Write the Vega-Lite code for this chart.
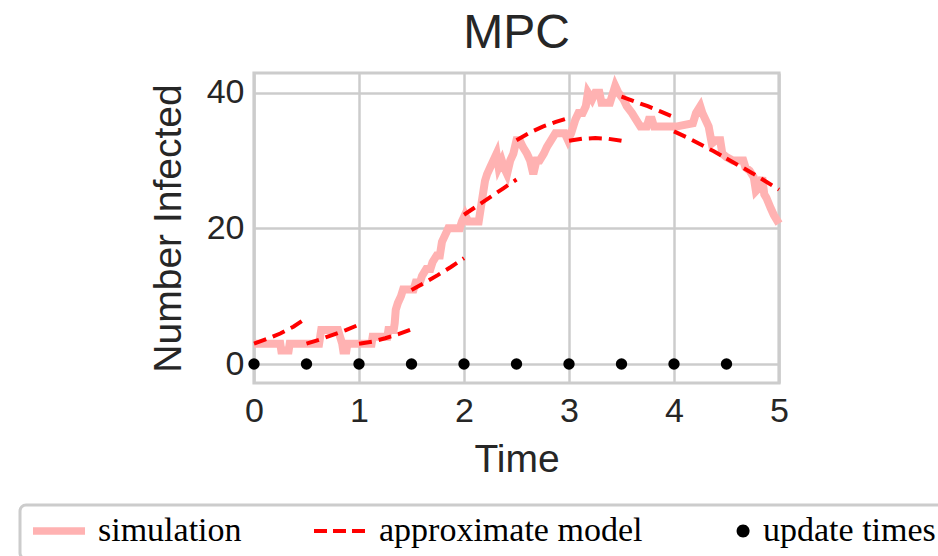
{
  "$schema": "https://vega.github.io/schema/vega-lite/v6.json",
  "width": 525,
  "height": 310,
  "autosize": {"type": "none"},
  "padding": {"left": 254, "top": 73, "right": 159, "bottom": 173},
  "background": "white",
  "title": {"text": "MPC", "fontSize": 48, "font": "Liberation Sans", "fontWeight": "normal", "color": "#262626", "offset": 12, "anchor": "middle"},
  "config": {
    "view": {"stroke": "#cccccc", "strokeWidth": 3.2},
    "axis": {"labelFont": "Liberation Sans", "titleFont": "Liberation Sans", "labelColor": "#262626", "titleColor": "#262626", "gridColor": "#cccccc", "gridWidth": 2.5, "gridOpacity": 1, "domain": false, "ticks": false, "labelFontSize": 34, "titleFontSize": 39, "titleFontWeight": "normal", "labelFlush": false}
  },
  "datasets": {
    "sim": [
      {"t": 0.00, "v": 3, "series": "simulation"},
      {"t": 0.25, "v": 3, "series": "simulation"},
      {"t": 0.26, "v": 2, "series": "simulation"},
      {"t": 0.33, "v": 2, "series": "simulation"},
      {"t": 0.34, "v": 3, "series": "simulation"},
      {"t": 0.62, "v": 3, "series": "simulation"},
      {"t": 0.63, "v": 4, "series": "simulation"},
      {"t": 0.64, "v": 5, "series": "simulation"},
      {"t": 0.80, "v": 5, "series": "simulation"},
      {"t": 0.82, "v": 4, "series": "simulation"},
      {"t": 0.84, "v": 3, "series": "simulation"},
      {"t": 0.85, "v": 2, "series": "simulation"},
      {"t": 0.88, "v": 2, "series": "simulation"},
      {"t": 0.89, "v": 3, "series": "simulation"},
      {"t": 1.12, "v": 3, "series": "simulation"},
      {"t": 1.13, "v": 4, "series": "simulation"},
      {"t": 1.27, "v": 4, "series": "simulation"},
      {"t": 1.28, "v": 5, "series": "simulation"},
      {"t": 1.33, "v": 5, "series": "simulation"},
      {"t": 1.34, "v": 6, "series": "simulation"},
      {"t": 1.35, "v": 8, "series": "simulation"},
      {"t": 1.37, "v": 9, "series": "simulation"},
      {"t": 1.40, "v": 10, "series": "simulation"},
      {"t": 1.42, "v": 11, "series": "simulation"},
      {"t": 1.52, "v": 11, "series": "simulation"},
      {"t": 1.54, "v": 12, "series": "simulation"},
      {"t": 1.58, "v": 12, "series": "simulation"},
      {"t": 1.60, "v": 13, "series": "simulation"},
      {"t": 1.64, "v": 14, "series": "simulation"},
      {"t": 1.68, "v": 14, "series": "simulation"},
      {"t": 1.70, "v": 15, "series": "simulation"},
      {"t": 1.74, "v": 16, "series": "simulation"},
      {"t": 1.77, "v": 16, "series": "simulation"},
      {"t": 1.79, "v": 18, "series": "simulation"},
      {"t": 1.82, "v": 19, "series": "simulation"},
      {"t": 1.85, "v": 20, "series": "simulation"},
      {"t": 1.96, "v": 20, "series": "simulation"},
      {"t": 1.98, "v": 21, "series": "simulation"},
      {"t": 2.01, "v": 22, "series": "simulation"},
      {"t": 2.04, "v": 21, "series": "simulation"},
      {"t": 2.14, "v": 21, "series": "simulation"},
      {"t": 2.16, "v": 23, "series": "simulation"},
      {"t": 2.18, "v": 25, "series": "simulation"},
      {"t": 2.20, "v": 27, "series": "simulation"},
      {"t": 2.22, "v": 28, "series": "simulation"},
      {"t": 2.25, "v": 29, "series": "simulation"},
      {"t": 2.28, "v": 30, "series": "simulation"},
      {"t": 2.31, "v": 31, "series": "simulation"},
      {"t": 2.33, "v": 29, "series": "simulation"},
      {"t": 2.36, "v": 30, "series": "simulation"},
      {"t": 2.38, "v": 29, "series": "simulation"},
      {"t": 2.41, "v": 28, "series": "simulation"},
      {"t": 2.44, "v": 30, "series": "simulation"},
      {"t": 2.47, "v": 31, "series": "simulation"},
      {"t": 2.50, "v": 33, "series": "simulation"},
      {"t": 2.53, "v": 33, "series": "simulation"},
      {"t": 2.56, "v": 32, "series": "simulation"},
      {"t": 2.60, "v": 31, "series": "simulation"},
      {"t": 2.63, "v": 30, "series": "simulation"},
      {"t": 2.66, "v": 28, "series": "simulation"},
      {"t": 2.69, "v": 30, "series": "simulation"},
      {"t": 2.72, "v": 30, "series": "simulation"},
      {"t": 2.76, "v": 31, "series": "simulation"},
      {"t": 2.79, "v": 32, "series": "simulation"},
      {"t": 2.83, "v": 33, "series": "simulation"},
      {"t": 2.87, "v": 34, "series": "simulation"},
      {"t": 2.96, "v": 34, "series": "simulation"},
      {"t": 2.99, "v": 33, "series": "simulation"},
      {"t": 3.02, "v": 34, "series": "simulation"},
      {"t": 3.06, "v": 36, "series": "simulation"},
      {"t": 3.09, "v": 37, "series": "simulation"},
      {"t": 3.13, "v": 37, "series": "simulation"},
      {"t": 3.16, "v": 38, "series": "simulation"},
      {"t": 3.18, "v": 40, "series": "simulation"},
      {"t": 3.22, "v": 39, "series": "simulation"},
      {"t": 3.25, "v": 40, "series": "simulation"},
      {"t": 3.29, "v": 40, "series": "simulation"},
      {"t": 3.31, "v": 38.5, "series": "simulation"},
      {"t": 3.39, "v": 38.5, "series": "simulation"},
      {"t": 3.42, "v": 40, "series": "simulation"},
      {"t": 3.44, "v": 41, "series": "simulation"},
      {"t": 3.47, "v": 40, "series": "simulation"},
      {"t": 3.52, "v": 39, "series": "simulation"},
      {"t": 3.55, "v": 38, "series": "simulation"},
      {"t": 3.60, "v": 37, "series": "simulation"},
      {"t": 3.64, "v": 36, "series": "simulation"},
      {"t": 3.68, "v": 35, "series": "simulation"},
      {"t": 3.74, "v": 35, "series": "simulation"},
      {"t": 3.76, "v": 36, "series": "simulation"},
      {"t": 3.79, "v": 36, "series": "simulation"},
      {"t": 3.81, "v": 35, "series": "simulation"},
      {"t": 4.02, "v": 35, "series": "simulation"},
      {"t": 4.18, "v": 35.5, "series": "simulation"},
      {"t": 4.21, "v": 37, "series": "simulation"},
      {"t": 4.25, "v": 38, "series": "simulation"},
      {"t": 4.27, "v": 37, "series": "simulation"},
      {"t": 4.30, "v": 36, "series": "simulation"},
      {"t": 4.33, "v": 35, "series": "simulation"},
      {"t": 4.36, "v": 32.5, "series": "simulation"},
      {"t": 4.40, "v": 33, "series": "simulation"},
      {"t": 4.44, "v": 33, "series": "simulation"},
      {"t": 4.46, "v": 31, "series": "simulation"},
      {"t": 4.50, "v": 30.5, "series": "simulation"},
      {"t": 4.56, "v": 30, "series": "simulation"},
      {"t": 4.66, "v": 30, "series": "simulation"},
      {"t": 4.68, "v": 29, "series": "simulation"},
      {"t": 4.72, "v": 28.5, "series": "simulation"},
      {"t": 4.76, "v": 27.5, "series": "simulation"},
      {"t": 4.78, "v": 25.5, "series": "simulation"},
      {"t": 4.81, "v": 26, "series": "simulation"},
      {"t": 4.84, "v": 27.5, "series": "simulation"},
      {"t": 4.86, "v": 25, "series": "simulation"},
      {"t": 4.88, "v": 24.5, "series": "simulation"},
      {"t": 4.92, "v": 23, "series": "simulation"},
      {"t": 4.95, "v": 22, "series": "simulation"},
      {"t": 5.00, "v": 20.7, "series": "simulation"}
    ],
    "model": [
      {"t": 0.0, "v": 3.0, "seg": 1, "series": "approximate model"},
      {"t": 0.125, "v": 3.7, "seg": 1, "series": "approximate model"},
      {"t": 0.25, "v": 4.5, "seg": 1, "series": "approximate model"},
      {"t": 0.375, "v": 5.5, "seg": 1, "series": "approximate model"},
      {"t": 0.5, "v": 6.8, "seg": 1, "series": "approximate model"},
      {"t": 0.5, "v": 3.0, "seg": 2, "series": "approximate model"},
      {"t": 0.625, "v": 3.6, "seg": 2, "series": "approximate model"},
      {"t": 0.75, "v": 4.3, "seg": 2, "series": "approximate model"},
      {"t": 0.875, "v": 5.0, "seg": 2, "series": "approximate model"},
      {"t": 1.0, "v": 5.8, "seg": 2, "series": "approximate model"},
      {"t": 1.0, "v": 3.0, "seg": 3, "series": "approximate model"},
      {"t": 1.125, "v": 3.3, "seg": 3, "series": "approximate model"},
      {"t": 1.25, "v": 3.8, "seg": 3, "series": "approximate model"},
      {"t": 1.375, "v": 4.4, "seg": 3, "series": "approximate model"},
      {"t": 1.5, "v": 5.1, "seg": 3, "series": "approximate model"},
      {"t": 1.5, "v": 10.9, "seg": 4, "series": "approximate model"},
      {"t": 1.625, "v": 12.0, "seg": 4, "series": "approximate model"},
      {"t": 1.75, "v": 13.1, "seg": 4, "series": "approximate model"},
      {"t": 1.875, "v": 14.3, "seg": 4, "series": "approximate model"},
      {"t": 2.0, "v": 15.6, "seg": 4, "series": "approximate model"},
      {"t": 2.0, "v": 22.0, "seg": 5, "series": "approximate model"},
      {"t": 2.125, "v": 23.3, "seg": 5, "series": "approximate model"},
      {"t": 2.25, "v": 24.6, "seg": 5, "series": "approximate model"},
      {"t": 2.375, "v": 25.9, "seg": 5, "series": "approximate model"},
      {"t": 2.5, "v": 27.2, "seg": 5, "series": "approximate model"},
      {"t": 2.5, "v": 33.0, "seg": 6, "series": "approximate model"},
      {"t": 2.625, "v": 34.1, "seg": 6, "series": "approximate model"},
      {"t": 2.75, "v": 35.0, "seg": 6, "series": "approximate model"},
      {"t": 2.875, "v": 35.7, "seg": 6, "series": "approximate model"},
      {"t": 3.0, "v": 36.3, "seg": 6, "series": "approximate model"},
      {"t": 3.0, "v": 32.9, "seg": 7, "series": "approximate model"},
      {"t": 3.125, "v": 33.2, "seg": 7, "series": "approximate model"},
      {"t": 3.25, "v": 33.3, "seg": 7, "series": "approximate model"},
      {"t": 3.375, "v": 33.2, "seg": 7, "series": "approximate model"},
      {"t": 3.5, "v": 32.9, "seg": 7, "series": "approximate model"},
      {"t": 3.5, "v": 39.4, "seg": 8, "series": "approximate model"},
      {"t": 3.625, "v": 38.7, "seg": 8, "series": "approximate model"},
      {"t": 3.75, "v": 38.0, "seg": 8, "series": "approximate model"},
      {"t": 3.875, "v": 37.2, "seg": 8, "series": "approximate model"},
      {"t": 4.0, "v": 36.4, "seg": 8, "series": "approximate model"},
      {"t": 4.0, "v": 34.3, "seg": 9, "series": "approximate model"},
      {"t": 4.125, "v": 33.4, "seg": 9, "series": "approximate model"},
      {"t": 4.25, "v": 32.4, "seg": 9, "series": "approximate model"},
      {"t": 4.375, "v": 31.4, "seg": 9, "series": "approximate model"},
      {"t": 4.5, "v": 30.3, "seg": 9, "series": "approximate model"},
      {"t": 4.5, "v": 30.3, "seg": 10, "series": "approximate model"},
      {"t": 4.625, "v": 29.2, "seg": 10, "series": "approximate model"},
      {"t": 4.75, "v": 28.1, "seg": 10, "series": "approximate model"},
      {"t": 4.875, "v": 26.9, "seg": 10, "series": "approximate model"},
      {"t": 5.0, "v": 25.7, "seg": 10, "series": "approximate model"}
    ],
    "updates": [
      {"t": 0.0, "v": 0, "series": "update times"},
      {"t": 0.5, "v": 0, "series": "update times"},
      {"t": 1.0, "v": 0, "series": "update times"},
      {"t": 1.5, "v": 0, "series": "update times"},
      {"t": 2.0, "v": 0, "series": "update times"},
      {"t": 2.5, "v": 0, "series": "update times"},
      {"t": 3.0, "v": 0, "series": "update times"},
      {"t": 3.5, "v": 0, "series": "update times"},
      {"t": 4.0, "v": 0, "series": "update times"},
      {"t": 4.5, "v": 0, "series": "update times"}
    ]
  },
  "layer": [
    {
      "data": {"name": "sim"},
      "mark": {"type": "line", "strokeWidth": 8, "clip": false},
      "encoding": {
        "x": {"field": "t", "type": "quantitative", "scale": {"domain": [0, 5], "nice": false, "zero": false}, "axis": {"values": [0, 1, 2, 3, 4, 5], "format": "d", "title": "Time", "labelPadding": 11, "titlePadding": 12, "grid": true, "labelFlush": false}},
        "y": {"field": "v", "type": "quantitative", "scale": {"domain": [-2.8, 42.9], "nice": false, "zero": false}, "axis": {"values": [0, 20, 40], "format": "d", "title": "Number Infected", "labelPadding": 10, "titlePadding": 18, "grid": true, "labelFlush": false}},
        "color": {
          "field": "series", "type": "nominal",
          "scale": {"domain": ["simulation", "approximate model", "update times"], "range": ["#ffb2b2", "#ff0000", "#000000"]},
          "legend": {
            "title": null, "orient": "none", "legendX": -234, "legendY": 432, "direction": "horizontal",
            "padding": 11, "columnPadding": 70, "clipHeight": 30, "symbolSize": 2704, "symbolStrokeWidth": 3.5,
            "labelFont": "Liberation Serif", "labelFontSize": 34, "labelColor": "#000000", "labelOffset": 11, "labelLimit": 600,
            "strokeColor": "#cccccc", "cornerRadius": 6, "fillColor": "white",
            "encode": {
              "legend": {"update": {"strokeWidth": {"value": 3}}},
              "symbols": {"update": {
                "shape": {"signal": "datum.value === 'update times' ? 'M0.33,0A0.25,0.25,0,1,1,-0.17,0A0.25,0.25,0,1,1,0.33,0Z' : datum.value === 'simulation' ? 'M-1,-0.14L1,-0.14L1,0.14L-1,0.14Z' : 'stroke'"},
                "fill": {"signal": "datum.value === 'update times' ? '#000000' : datum.value === 'simulation' ? '#ffb2b2' : 'transparent'"},
                "fillOpacity": {"signal": "datum.value === 'approximate model' ? 0 : 1"},
                "stroke": {"signal": "datum.value === 'approximate model' ? '#ff0000' : 'transparent'"},
                "strokeOpacity": {"signal": "datum.value === 'approximate model' ? 1 : 0"},
                "strokeWidth": {"value": 4},
                "strokeDash": {"value": [13, 6]},
                "opacity": {"value": 1},
                "size": {"value": 2704}
              }},
              "labels": {"update": {"x": {"signal": "datum.value === 'update times' ? datum.size - 6 : datum.size + 11"}}}
            }
          }
        }
      }
    },
    {
      "data": {"name": "model"},
      "mark": {"type": "line", "strokeWidth": 4, "strokeDash": [13, 7], "clip": false},
      "encoding": {
        "x": {"field": "t", "type": "quantitative"},
        "y": {"field": "v", "type": "quantitative"},
        "detail": {"field": "seg", "type": "nominal"},
        "color": {"field": "series", "type": "nominal"}
      }
    },
    {
      "data": {"name": "updates"},
      "mark": {"type": "point", "filled": true, "size": 130, "opacity": 1, "clip": false},
      "encoding": {
        "x": {"field": "t", "type": "quantitative"},
        "y": {"field": "v", "type": "quantitative"},
        "color": {"field": "series", "type": "nominal"}
      }
    }
  ]
}
